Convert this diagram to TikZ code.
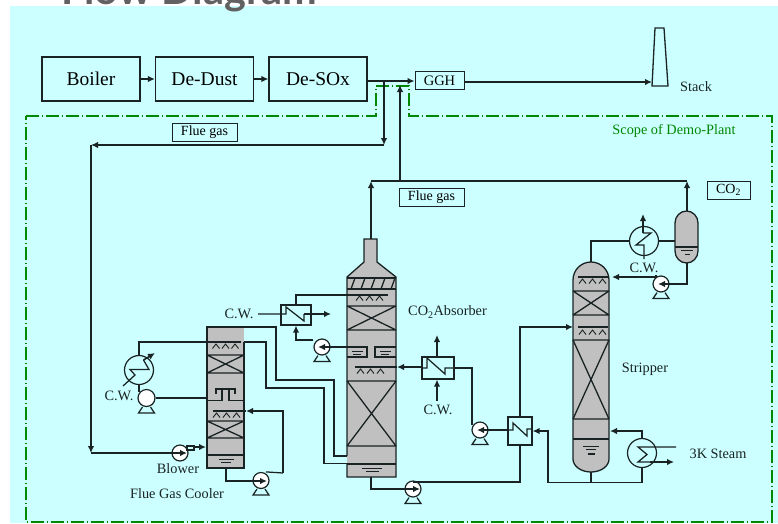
\documentclass[tikz,border=0pt]{standalone}
\usepackage{fontspec}
\setmainfont{Liberation Serif}
\newfontfamily\titlefont{Lato}
\usetikzlibrary{positioning,arrows.meta,calc}
\definecolor{plantbg}{RGB}{204,255,255}
\definecolor{vessel}{RGB}{192,192,192}
\definecolor{scopegreen}{RGB}{0,136,0}
\definecolor{inkline}{RGB}{25,35,35}
\tikzset{
  pipe/.style={draw=inkline,line width=1.25pt},
  flow/.style={draw=inkline,line width=1.5pt,-{Latex[length=7pt,width=6.5pt]}},
  wall/.style={draw=inkline,line width=1.3pt},
  unit/.style={draw=inkline,line width=1.2pt,font=\fontsize{19.5}{20}\selectfont,inner sep=0pt,minimum height=44pt,minimum width=98pt},
  tag/.style={draw=inkline,line width=.9pt,font=\fontsize{14}{15}\selectfont,inner sep=0pt,minimum height=18pt},
  lbl/.style={font=\fontsize{14.3}{15}\selectfont,text=inkline,inner sep=0pt},
  pumpc/.style={circle,draw=inkline,fill=white,line width=1.2pt,inner sep=0pt,minimum size=16pt},
  hxc/.style={circle,draw=inkline,line width=1.2pt,inner sep=0pt,minimum size=29pt},
  hxb/.style={rectangle,draw=inkline,line width=1.2pt,inner sep=0pt}
}
% packing bed with a cross: x1 x2 y1 y2
\newcommand{\packbed}[4]{\draw[wall] (#1,#3) -- (#2,#3) (#1,#4) -- (#2,#4) (#1,#3) -- (#2,#4) (#1,#4) -- (#2,#3);}
% spray carets: first x, step, y
\newcommand{\spray}[3]{\foreach \i in {0,1,2}{\draw[draw=inkline,line width=.9pt] ({#1+#3*\i},#2+2.5) -- ({#1+#3*\i+3.5},#2-2) -- ({#1+#3*\i+7},#2+2.5);}}
% liquid level: centre x, y, half width
\newcommand{\lvl}[3]{\draw[draw=inkline,line width=.9pt] (#1-#3,#2) -- (#1+#3,#2) (#1-#3*.65,#2+3.5) -- (#1+#3*.65,#2+3.5);}
% pump feet
\newcommand{\pumpfeet}[1]{\draw[pipe] ([xshift=-4pt]#1.south) -- ([xshift=-8pt,yshift=-6pt]#1.south) -- ([xshift=8pt,yshift=-6pt]#1.south) -- ([xshift=4pt]#1.south);}
\begin{document}
\begin{tikzpicture}[x=1pt,y=-1pt]
\useasboundingbox (0,0) rectangle (778,523);
\fill[plantbg] (10,6) rectangle (778,523);
\node[font=\titlefont\bfseries\fontsize{41.5}{42}\selectfont,text=black!62,anchor=base west,inner sep=0pt] (title) at (61,4) {Flow Diagram};
% scope of the plant
\draw[scopegreen,line width=1.1pt,dash pattern=on 13pt off 3pt on 1pt off 3pt] (26,116) -- (376,116) -- (376,86) -- (409,86) -- (409,116) -- (772,116) -- (772,522) -- (26,522) -- cycle;
\node[lbl,text=scopegreen] (scopelbl) at (674,131) {Scope of Demo-Plant};
% upper line
\node[unit] (boiler) at (91,79) {\raisebox{-2pt}{Boiler}};
\node[unit] (dedust) at (204.5,79) {\raisebox{-2pt}{De-Dust}};
\node[unit] (desox) at (318,79) {\raisebox{-2pt}{De-SOx}};
\node[tag,font=\fontsize{14.5}{15}\selectfont,minimum width=49pt] (ggh) at (439.5,80.5) {GGH};
\draw[wall] (655,28) -- (664,28) -- (668,86) -- (652,86) -- cycle;
\coordinate (stackin) at (652,82);
\node[lbl] (stacklbl) at (696,87) {Stack};
\node[tag,minimum width=65pt] (fluetagA) at (204.5,132) {Flue gas};
\node[tag,minimum width=65pt] (fluetagB) at (431.5,197) {Flue gas};
\node[tag,minimum width=43pt] (cotag) at (728.5,190) {CO\textsubscript{2}};
\draw[flow] (boiler) -- (dedust);
\draw[flow] (dedust) -- (desox);
\draw[flow] (desox.east |- 0,81) -- (ggh.west |- 0,81);
\draw[flow] (ggh.east |- 0,82) -- (stackin);
% flue gas by-pass to the blower
\coordinate (bypA) at (384,81);
\coordinate (bypB) at (384,145);
\coordinate (bypC) at (91,145);
\coordinate (bypD) at (91,453);
\draw[flow] (bypA) -- (bypB);
\draw[flow] (bypB) -- (bypC);
\draw[flow] (bypC) -- (bypD);
% flue gas cooler
\fill[vessel] (207,327) rectangle (244,468);
\draw[wall] (244,342) -- (244,468) -- (207,468) -- (207,327) -- (244,327);
\packbed{207}{244}{355}{373}
\packbed{207}{244}{421}{438}
\spray{212.5}{346}{9.5}
\spray{213}{415}{10}
\draw[wall] (207,400.5) -- (222,400.5) -- (222,389) (244,400.5) -- (229,400.5) -- (229,389) (216,394) -- (216,389) -- (235,389) -- (235,394);
\draw[wall] (207,455) -- (244,455);
\lvl{226}{459}{7.5}
\node[pumpc] (blower) at (180,453) {};
\draw[pipe] (187,446) rectangle (194,450);
\node[pumpc] (pumpC) at (261,480.5) {};
\pumpfeet{pumpC}
\node[hxc] (condL) at (139,370) {};
\node[pumpc,minimum size=17pt] (pumpL) at (146.5,398) {};
\pumpfeet{pumpL}
\coordinate (topL) at (139,342);
\coordinate (sprayL) at (241,342);
\draw[pipe] (sprayL) -- (topL) -- (condL.north);
\draw[pipe] (condL.south) -- (139,392);
\draw[pipe] (pumpL.east) -- (207,398);
\draw[pipe] (123,386) -- (135,375) -- (130,369.5) -- (149,369.5) -- (143.5,360);
\draw[flow] (143.5,360) -- (155,353);
\node[lbl] (cwL) at (119,396) {C.W.};
\coordinate (blowtip) at (187,453);
\draw[flow] (bypD) -- (blowtip);
\coordinate (colin) at (206,447);
\draw[flow] (194,447) -- (colin);
\node[lbl] (blowlbl) at (178,469) {Blower};
\node[lbl] (fgclbl) at (177,494) {Flue Gas Cooler};
\coordinate (botC) at (226,468);
\draw[flow] (botC) |- (267,481);
\coordinate (retC) at (283,473);
\coordinate (sprayC) at (213,411);
\draw[pipe] (pumpC.north) ++(5,0) -- (retC);
\draw[flow] (retC) |- (246,411);
\draw[pipe] (246,411) -- (sprayC);
% absorber
\fill[vessel] (364,239) -- (377,239) -- (377,262) -- (396,277) -- (396,477) -- (347,477) -- (347,277) -- (364,262) -- cycle;
\draw[wall] (347,456) -- (347,277) -- (364,262) -- (364,239) -- (377,239) -- (377,262) -- (396,277) -- (396,477) -- (347,477) -- (347,463);
\draw[wall] (347,278) -- (396,278) (347,289) -- (396,289);
\foreach \xa in {351,361,371,381,391}{\draw[wall] (\xa,289) -- (\xa+4,278);}
\spray{356}{298}{10}
\packbed{347}{396}{306}{330}
\draw[wall] (347,347) -- (367,347) -- (367,357) -- (347,357) (396,347) -- (375,347) -- (375,357) -- (396,357);
\lvl{357}{351}{5.5}
\lvl{385}{351}{5.5}
\spray{357}{371}{10}
\packbed{347}{396}{381}{446}
\draw[wall] (347,464) -- (396,464);
\lvl{372}{468}{10}
\node[lbl] (abslbl) at (447.5,312) {CO\textsubscript{2}Absorber};
% absorber side cooler
\node[hxb,minimum width=30pt,minimum height=20pt] (coolA) at (296,315) {};
\coordinate (cwinA) at (258,314);
\coordinate (cwoutA) at (331,314);
\draw[pipe] (cwinA) -- (286,314) -- (286,307) -- (304,321) -- (304,314);
\draw[flow] (304,314) -- (cwoutA);
\node[lbl] (cwA) at (239,314) {C.W.};
\coordinate (sprayA) at (388,295);
\draw[pipe] (coolA.north) |- (sprayA);
\node[pumpc] (pumpA) at (322,347) {};
\pumpfeet{pumpA}
\draw[flow] (347,347) -- (318,347);
\draw[flow] (pumpA.west |- 0,340) -| (coolA.south);
% lines from the cooler to the absorber
\draw[pipe] (244,327) -| (276,380) -| (334,456) -- (347,456);
\draw[pipe] (244,342) -| (266,388) -| (324,463.5) -- (347,463.5);
% second side cooler
\node[hxb,minimum width=32pt,minimum height=22pt] (coolB) at (438,368) {};
\draw[pipe] (422,368) -- (427,368) -- (427,358) -- (445,374) -- (445,368) -- (454,368);
\coordinate (cwoutB) at (437,335);
\coordinate (cwinB) at (437,401);
\draw[flow] (coolB.north -| cwoutB) -- (cwoutB);
\draw[flow] (cwinB) -- (coolB.south -| cwinB);
\node[lbl] (cwB) at (438,410) {C.W.};
\coordinate (sprayB) at (355,367);
\draw[flow] (coolB.west |- 0,367) -- (397,367);
\draw[pipe] (397,367) -- (sprayB);
% rich and lean pumps with the exchanger
\node[pumpc] (pumpR) at (413,489) {};
\pumpfeet{pumpR}
\node[pumpc] (pumpB) at (480,430) {};
\pumpfeet{pumpB}
\node[hxb,minimum width=24pt,minimum height=28pt] (hxmain) at (520,431) {};
\draw[flow] (371,477) |- (420,489);
\draw[pipe] (413,482) -- (520,482) -- (hxmain.south);
\draw[pipe] (508,430) -- (513,430) -- (513,423) -- (527,436) -- (527,429) -- (532,429);
\draw[flow] (hxmain.west |- 0,430) -- (477,430);
\draw[pipe] (coolB.east |- 0,368) -| (472,425);
\coordinate (feedS) at (573,327);
\draw[flow] (hxmain.north) |- (feedS);
% stripper
\fill[vessel] (573,280) arc [start angle=180,end angle=360,x radius=18,y radius=18] -- (609,459) arc [start angle=0,end angle=180,x radius=18,y radius=13] -- cycle;
\draw[wall] (573,280) arc [start angle=180,end angle=360,x radius=18,y radius=18] -- (609,459) arc [start angle=0,end angle=180,x radius=18,y radius=13] -- cycle;
\coordinate (sprayS) at (578,277);
\draw[pipe] (578,277) -- (608,277) (578,327) -- (608,327);
\spray{579}{281}{10}
\spray{579}{332}{10}
\packbed{573}{609}{291}{315}
\packbed{573}{609}{340}{419}
\draw[wall] (573,439) -- (609,439);
\lvl{591}{446}{8}
\draw[pipe] (587.5,454) -- (594.5,454);
\node[lbl] (striplbl) at (645,369) {Stripper};
% reboiler
\node[hxc] (rebo) at (642,453) {};
\coordinate (botS) at (591,472);
\coordinate (loop) at (548,482.5);
\draw[pipe] (botS) |- (loop);
\draw[pipe] (rebo.south) |- (loop);
\draw[flow] (loop) |- (hxmain.east |- 0,431);
\draw[flow] (rebo.north) |- (610,431);
\coordinate (stmin) at (676,447);
\coordinate (stmout) at (674,462);
\draw[pipe] (stmin) -- (638,447) -- (647,454.5) -- (638,462) -- (650,462);
\draw[flow] (650,462) -- (stmout);
\node[lbl] (steamlbl) at (718,454) {3K Steam};
% overhead condenser and drum
\node[hxc] (condT) at (644,241) {};
\fill[vessel] (675,223) arc [start angle=180,end angle=360,x radius=11.5,y radius=12] -- (698,251) arc [start angle=0,end angle=180,x radius=11.5,y radius=12] -- cycle;
\draw[wall] (675,223) arc [start angle=180,end angle=360,x radius=11.5,y radius=12] -- (698,251) arc [start angle=0,end angle=180,x radius=11.5,y radius=12] -- cycle;
\draw[wall] (675,247) -- (698,247);
\draw[draw=inkline,line width=.9pt] (681,250.5) -- (693,250.5) (684.5,254) -- (689.5,254);
\draw[pipe] (591,262) |- (condT.west);
\draw[pipe] (condT.east) -- (675,241);
\draw[pipe] (644,259) -- (644,245) -- (636,245) -- (651,233) -- (643,233);
\draw[flow] (643,233) -- (643,214);
\node[lbl] (cwT) at (644,268) {C.W.};
\node[pumpc] (pumpT) at (661,284) {};
\pumpfeet{pumpT}
\draw[flow] (687,263) |- (658,284);
\draw[flow] (pumpT.north) ++(-5,0) |- (612,277);
\coordinate (overS) at (371,181);
\coordinate (overT) at (687,181);
\coordinate (retN) at (400,181);
\draw[flow] (371,239) -- (overS);
\draw[flow] (687,211) -- (overT);
\draw[pipe] (overS) -- (overT);
\draw[flow] (retN) -- (400,85);
\end{tikzpicture}
\end{document}
